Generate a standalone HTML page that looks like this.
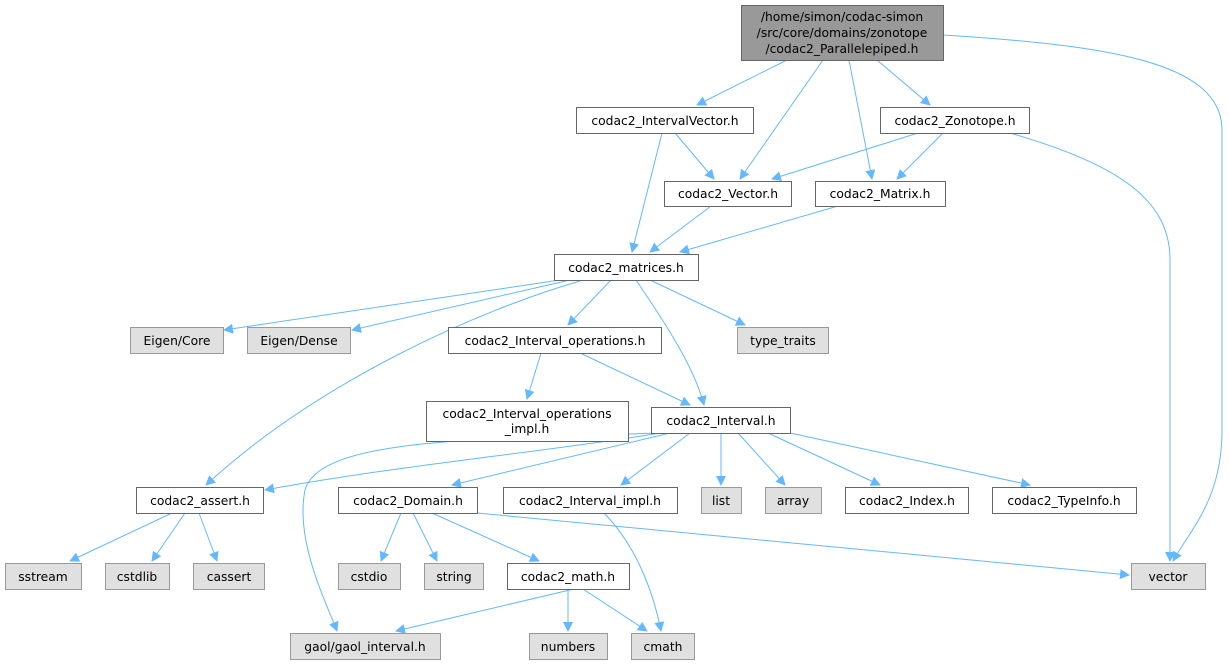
<!DOCTYPE html>
<html><head><meta charset="utf-8"><style>
html,body{margin:0;padding:0;background:#fff;}
svg{display:block;}
text{font-family:"DejaVu Sans","Liberation Sans",sans-serif;font-size:12.3px;fill:#000;}
</style></head><body>
<svg width="1229" height="667" viewBox="0 0 1229 667" xmlns="http://www.w3.org/2000/svg">
<defs><marker id="a" viewBox="0 0 10 10" refX="9" refY="5" markerWidth="10" markerHeight="10" markerUnits="userSpaceOnUse" orient="auto"><path d="M0,0 L10,5 L0,10 z" fill="#63b8ff"/></marker></defs>
<g fill="none" stroke="#63b8ff" stroke-width="1" marker-end="url(#a)">
<path d="M787,60 L697,105"/>
<path d="M823,60 L740,179"/>
<path d="M849,60 L872,179"/>
<path d="M877,60 L930,105"/>
<path d="M943,35 C1100,45 1222,60 1222,130 L1222,430 C1222,500 1190,530 1173,561"/>
<path d="M675,133 L714,179"/>
<path d="M662,133 L632,252"/>
<path d="M918,133 L772,179"/>
<path d="M943,133 L897,179"/>
<path d="M1010,133 C1120,165 1170,200 1170,260 L1170,561"/>
<path d="M711,206 L650,252"/>
<path d="M838,206 L680,252"/>
<path d="M560,280 L224,330"/>
<path d="M570,280 L352,330"/>
<path d="M580,281 C480,310 320,380 206,485"/>
<path d="M611,280 L568,325"/>
<path d="M650,280 L745,325"/>
<path d="M636,280 C670,330 695,370 704,405"/>
<path d="M541,353 L527,399"/>
<path d="M580,353 L690,405"/>
<path d="M660,433 C560,450 400,465 265,490"/>
<path d="M655,433 C500,440 320,435 305,490 C295,540 325,600 337,631"/>
<path d="M670,433 L452,485"/>
<path d="M690,433 L621,485"/>
<path d="M721,433 L721,485"/>
<path d="M738,433 L785,485"/>
<path d="M768,433 L880,485"/>
<path d="M790,433 L1030,485"/>
<path d="M172,513 L70,561"/>
<path d="M185,513 L152,561"/>
<path d="M199,513 L217,561"/>
<path d="M401,513 L381,561"/>
<path d="M413,513 L437,561"/>
<path d="M432,513 L539,561"/>
<path d="M477,513 L1129,575"/>
<path d="M604,513 C640,550 655,600 661,631"/>
<path d="M574,589 L396,631"/>
<path d="M568,589 L568,631"/>
<path d="M583,589 L647,631"/>
</g>
<g stroke-width="1">
<rect x="741.5" y="5.5" width="202" height="55" fill="#999" stroke="#666"/>
<g fill="#fff" stroke="#666">
<rect x="576.5" y="107.5" width="177" height="26"/>
<rect x="880.5" y="107.5" width="149" height="26"/>
<rect x="664.5" y="181.5" width="127" height="25"/>
<rect x="815.5" y="181.5" width="130" height="25"/>
<rect x="554.5" y="254.5" width="144" height="26"/>
<rect x="448.5" y="327.5" width="213" height="26"/>
<rect x="426.5" y="401.5" width="202" height="40"/>
<rect x="651.5" y="407.5" width="139" height="26"/>
<rect x="136.5" y="487.5" width="127" height="26"/>
<rect x="338.5" y="487.5" width="139" height="26"/>
<rect x="503.5" y="487.5" width="174" height="26"/>
<rect x="845.5" y="487.5" width="123" height="26"/>
<rect x="992.5" y="487.5" width="144" height="26"/>
<rect x="507.5" y="563.5" width="122" height="26"/>
</g>
<g fill="#e0e0e0" stroke="#999">
<rect x="130.5" y="327.5" width="93" height="26"/>
<rect x="247.5" y="327.5" width="103" height="26"/>
<rect x="737.5" y="327.5" width="91" height="26"/>
<rect x="701.5" y="487.5" width="40" height="26"/>
<rect x="765.5" y="487.5" width="56" height="26"/>
<rect x="1131.5" y="563.5" width="74" height="26"/>
<rect x="5.5" y="563.5" width="76" height="26"/>
<rect x="105.5" y="563.5" width="64" height="26"/>
<rect x="193.5" y="563.5" width="71" height="26"/>
<rect x="338.5" y="563.5" width="62" height="26"/>
<rect x="424.5" y="563.5" width="59" height="26"/>
<rect x="290.5" y="633.5" width="150" height="26"/>
<rect x="529.5" y="633.5" width="78" height="26"/>
<rect x="631.5" y="633.5" width="63" height="26"/>
</g>
</g>
<g text-anchor="middle">
<text x="842" y="21">/home/simon/codac-simon</text>
<text x="842" y="37">/src/core/domains/zonotope</text>
<text x="842" y="53">/codac2_Parallelepiped.h</text>
<text x="665" y="125">codac2_IntervalVector.h</text>
<text x="955" y="125">codac2_Zonotope.h</text>
<text x="728" y="198">codac2_Vector.h</text>
<text x="880" y="198">codac2_Matrix.h</text>
<text x="626" y="272">codac2_matrices.h</text>
<text x="177" y="345">Eigen/Core</text>
<text x="299" y="345">Eigen/Dense</text>
<text x="555" y="345">codac2_Interval_operations.h</text>
<text x="783" y="345">type_traits</text>
<text x="527" y="418">codac2_Interval_operations</text>
<text x="527" y="433">_impl.h</text>
<text x="721" y="425">codac2_Interval.h</text>
<text x="200" y="505">codac2_assert.h</text>
<text x="408" y="505">codac2_Domain.h</text>
<text x="590" y="505">codac2_Interval_impl.h</text>
<text x="721" y="505">list</text>
<text x="793" y="505">array</text>
<text x="907" y="505">codac2_Index.h</text>
<text x="1064" y="505">codac2_TypeInfo.h</text>
<text x="1168" y="581">vector</text>
<text x="43" y="581">sstream</text>
<text x="137" y="581">cstdlib</text>
<text x="229" y="581">cassert</text>
<text x="369" y="581">cstdio</text>
<text x="454" y="581">string</text>
<text x="568" y="581">codac2_math.h</text>
<text x="365" y="651">gaol/gaol_interval.h</text>
<text x="568" y="651">numbers</text>
<text x="663" y="651">cmath</text>
</g>
</svg>
</body></html>
